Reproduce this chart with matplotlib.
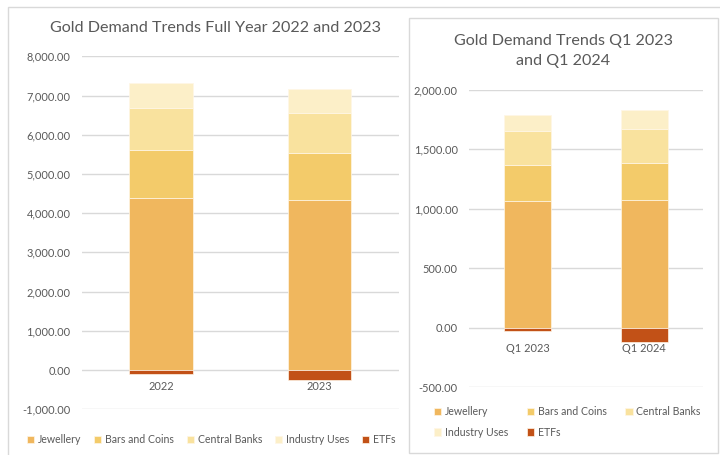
import matplotlib
matplotlib.use("Agg")
import matplotlib.pyplot as plt
from matplotlib.patches import Rectangle
from matplotlib.ticker import FuncFormatter
from matplotlib.transforms import offset_copy

plt.rcParams['font.family'] = ['Lato', 'DejaVu Sans']

# ---- data ----
series = ["Jewellery", "Bars and Coins", "Central Banks", "Industry Uses", "ETFs"]
colors = ["#F0B75E", "#F3CB6A", "#F9E29E", "#FCEFC8", "#C25117"]

years = ["2022", "2023"]
year_jewellery = [4390, 4340]
year_bars = [1220, 1190]
year_cb = [1080, 1030]
year_industry = [620, 600]
year_etf = [-110, -245]

quarters = ["Q1 2023", "Q1 2024"]
q_jewellery = [1062, 1073]
q_bars = [303, 309]
q_cb = [287, 289]
q_industry = [140, 158]
q_etf = [-31, -118]

W, H = 720, 455
fig = plt.figure(figsize=(W / 100, H / 100), dpi=100)
fig.patch.set_facecolor("white")

TXT = "#595959"
GRID = "#D9D9D9"
SMALL = 7.9
LEG = 7.6
TITLE = 11.6


def fx(x):
    return x / W


def fy(y):
    return 1 - y / H


def add_ax(x0, y0, x1, y1):
    return fig.add_axes([fx(x0), fy(y1), fx(x1) - fx(x0), fy(y0) - fy(y1)])


# panel frames
fig.patches.append(Rectangle((fx(8), fy(470)), fx(740) - fx(8), fy(7) - fy(470),
                             transform=fig.transFigure, facecolor="white",
                             edgecolor=GRID, linewidth=1, zorder=-10))
fig.patches.append(Rectangle((fx(408.5), fy(452.5)), fx(717.5) - fx(408.5), fy(17.5) - fy(452.5),
                             transform=fig.transFigure, facecolor="white",
                             edgecolor=GRID, linewidth=1, zorder=-9))


def draw(ax, cats, vals, ylim, yticks, label_offset_px):
    xs = list(range(len(cats)))
    bottom = [0] * len(cats)
    handles = []
    for name, v, c in zip(series[:4], vals[:4], colors[:4]):
        h = ax.bar(xs, v, 0.4, bottom=bottom, color=c, edgecolor="#FFF6E6",
                   linewidth=0.5, label=name, zorder=3)
        bottom = [b + x for b, x in zip(bottom, v)]
        handles.append(h)
    h = ax.bar(xs, vals[4], 0.4, bottom=0, color=colors[4], edgecolor="#FFF6E6",
               linewidth=0.5, label=series[4], zorder=3)
    handles.append(h)
    ax.set_xlim(-0.5, len(cats) - 0.5)
    ax.set_ylim(*ylim)
    ax.set_yticks(yticks)
    ax.yaxis.set_major_formatter(FuncFormatter(lambda v, p: f"{v:,.2f}"))
    ax.set_xticks([])
    # category labels sit just below the zero line
    tr = offset_copy(ax.transData, fig=fig, x=0, y=-label_offset_px, units="dots")
    for x, c in zip(xs, cats):
        ax.text(x, 0, c, transform=tr, ha="center", va="center",
                fontsize=SMALL, color=TXT, zorder=4)
    ax.grid(axis="y", color=GRID, linewidth=1, zorder=0)
    ax.set_axisbelow(True)
    for s in ax.spines.values():
        s.set_visible(False)
    ax.tick_params(axis="both", length=0, colors=TXT, labelsize=SMALL)
    ax.tick_params(axis="y", pad=8)
    ax.set_facecolor("none")
    return handles


# left chart
axL = add_ax(81.7, 56.3, 398.7, 409.3)
hL = draw(axL, years,
          [year_jewellery, year_bars, year_cb, year_industry, year_etf],
          (-1000, 8000), list(range(-1000, 8001, 1000)), 16)
fig.text(fx(215.5), fy(28), "Gold Demand Trends Full Year 2022 and 2023",
         ha="center", va="center", fontsize=TITLE, color=TXT)
fig.legend(hL, series, loc="center", bbox_to_anchor=(fx(211), fy(439.5)),
           ncol=5, frameon=False, fontsize=LEG, labelcolor=TXT,
           handlelength=0.7, handleheight=0.7, handletextpad=0.35,
           columnspacing=1.2, borderpad=0, borderaxespad=0)

# right chart
axR = add_ax(469, 90, 702.7, 387)
hR = draw(axR, quarters,
          [q_jewellery, q_bars, q_cb, q_industry, q_etf],
          (-500, 2000), list(range(-500, 2001, 500)), 21)
fig.text(fx(563), fy(51), "Gold Demand Trends Q1 2023\nand Q1 2024",
         ha="center", va="center", fontsize=TITLE, color=TXT, linespacing=1.55)
order = [0, 3, 1, 4, 2]
fig.legend([hR[i] for i in order], [series[i] for i in order], loc="upper left",
           bbox_to_anchor=(fx(434), fy(406)),
           ncol=3, frameon=False, fontsize=LEG, labelcolor=TXT,
           handlelength=0.7, handleheight=0.7, handletextpad=0.35,
           columnspacing=1.75, borderpad=0, borderaxespad=0, labelspacing=0.9)

fig.savefig("out.png", dpi=100, facecolor="white")
